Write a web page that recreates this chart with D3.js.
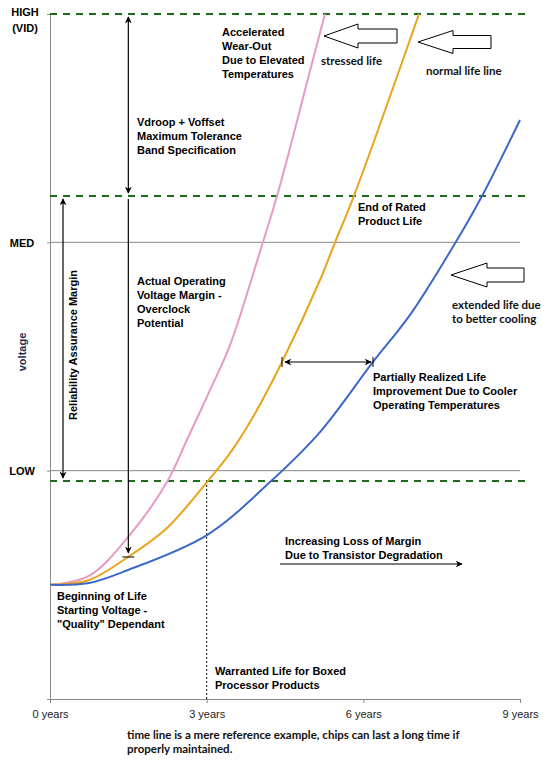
<!DOCTYPE html>
<html>
<head>
<meta charset="utf-8">
<script src="https://cdn.jsdelivr.net/npm/d3@7"></script>
<style>
  body { margin: 0; background: #fff; }
  svg { display: block; }
  .lbl { font-family: "Liberation Sans", Arial, sans-serif; font-size: 11px; font-weight: bold; fill: #000; }
  .note { font-family: Lato, "Open Sans", sans-serif; font-size: 11.5px; font-weight: bold; fill: #111; }
</style>
</head>
<body>
<script>
// time line in years, voltage in "levels" (0 = bottom, 1 = LOW, 2 = MED, 3 = HIGH)
const years = [0, 3, 6, 9];
const levels = [1, 2, 3];
const levelNames = ["LOW", "MED", "HIGH"];
const marginLevels = [0.955, 2.203, 3];

// stressed life (pink)
const stressedX = [0, 0.747, 1.494, 2.24, 2.62, 3.064, 3.447, 4.06, 4.347, 4.65, 4.92, 5.266];
const stressedV = [0.5, 0.539, 0.709, 0.95, 1.134, 1.353, 1.55, 1.988, 2.203, 2.46, 2.70, 3.0];
// normal life line (orange)
const normalX = [0, 0.747, 1.494, 2.24, 3.006, 3.447, 3.887, 4.443, 5.17, 5.458, 5.82, 7.066];
const normalV = [0.5, 0.521, 0.622, 0.749, 0.95, 1.077, 1.235, 1.476, 1.835, 2.0, 2.203, 3.0];
// extended life (blue)
const extendedX = [0, 0.747, 1.494, 3.006, 4.213, 5.17, 6.185, 6.894, 7.794, 8.273, 9];
const extendedV = [0.5, 0.508, 0.565, 0.718, 0.95, 1.169, 1.476, 1.682, 2.01, 2.203, 2.536];

const W = 554, H = 769;
const x = d3.scaleLinear().domain([0, 9]).range([50, 520]);
const y = d3.scaleLinear().domain([0, 3]).range([699, 14]);

const svg = d3.select("body").append("svg")
    .attr("width", W)
    .attr("height", H);

const defs = svg.append("defs");
defs.append("marker")
    .attr("id", "head")
    .attr("viewBox", "0 0 10 10")
    .attr("refX", 9).attr("refY", 5)
    .attr("markerWidth", 7).attr("markerHeight", 7)
    .attr("markerUnits", "userSpaceOnUse")
    .attr("orient", "auto-start-reverse")
    .append("path")
    .attr("d", "M0,0 L10,5 L0,10 L3,5 Z")
    .attr("fill", "#000");

// gray grid lines at LOW and MED
svg.selectAll(".grid")
    .data(levels.slice(0, 2))
    .enter().append("line")
    .attr("x1", x(0)).attr("x2", x(9))
    .attr("y1", d => y(d)).attr("y2", d => y(d))
    .attr("stroke", "#888").attr("stroke-width", 1);

// axes
const yAxis = svg.append("g")
    .attr("transform", `translate(${x(0)},0)`)
    .call(d3.axisLeft(y).tickValues(levels).tickSize(3).tickFormat(""));
yAxis.select(".domain").attr("stroke", "#888");
yAxis.selectAll(".tick line").attr("stroke", "#888");

const xAxis = svg.append("g")
    .attr("transform", `translate(0,${y(0)})`)
    .call(d3.axisBottom(x).tickValues(years).tickSize(4).tickPadding(7)
        .tickFormat(d => d + " years"));
xAxis.select(".domain").attr("stroke", "#888");
xAxis.selectAll(".tick line").attr("stroke", "#888");
xAxis.selectAll("text")
    .attr("font-family", "Liberation Sans, Arial, sans-serif")
    .attr("font-size", 11)
    .attr("fill", "#222");

// level names on the left
svg.selectAll(".lvl")
    .data(levels)
    .enter().append("text")
    .attr("class", "lbl")
    .attr("text-anchor", "middle")
    .attr("x", d => d === 3 ? 25 : 22)
    .attr("y", d => y(d) + (d === 3 ? 2 : 4.5))
    .text((d, i) => levelNames[i]);
svg.append("text").attr("class", "lbl")
    .attr("text-anchor", "middle")
    .attr("x", 25).attr("y", y(3) + 18)
    .text("(VID)");

svg.append("text")
    .attr("class", "lbl")
    .style("fill", "#1f2d50")
    .attr("text-anchor", "middle")
    .attr("transform", "translate(26,352) rotate(-90)")
    .text("voltage");

// green dashed margin lines
svg.selectAll(".margin")
    .data(marginLevels)
    .enter().append("line")
    .attr("x1", x(0)).attr("x2", 528)
    .attr("y1", d => y(d)).attr("y2", d => y(d))
    .attr("stroke", "#1d6b1d")
    .attr("stroke-width", 2)
    .attr("stroke-dasharray", "7,6");

// warranted life dotted line
svg.append("line")
    .attr("x1", x(3)).attr("x2", x(3))
    .attr("y1", y(marginLevels[0])).attr("y2", y(0))
    .attr("stroke", "#000")
    .attr("stroke-dasharray", "2,2");

// curves
const line = d3.line()
    .x(d => x(d[0]))
    .y(d => y(d[1]))
    .curve(d3.curveCatmullRom.alpha(0.5));

const series = [
    { xs: stressedX, vs: stressedV, color: "#e89ac6" },
    { xs: normalX, vs: normalV, color: "#e8a41c" },
    { xs: extendedX, vs: extendedV, color: "#3d68c9" }
];
series.forEach(s => {
    svg.append("path")
        .datum(s.xs.map((v, i) => [v, s.vs[i]]))
        .attr("d", line)
        .attr("fill", "none")
        .attr("stroke", s.color)
        .attr("stroke-width", 2);
});

// arrows
function arrow(x1, y1, x2, y2, both) {
    const l = svg.append("line")
        .attr("x1", x1).attr("y1", y1)
        .attr("x2", x2).attr("y2", y2)
        .attr("stroke", "#000")
        .attr("stroke-width", 1.2)
        .attr("marker-end", "url(#head)");
    if (both) l.attr("marker-start", "url(#head)");
}
const xa = x(1.5);
arrow(xa, y(3) + 3, xa, y(marginLevels[1]) - 3, true);
arrow(xa, y(marginLevels[1]) + 3, xa, y(0.64), false);
svg.append("line").attr("x1", xa - 6).attr("x2", xa + 6)
    .attr("y1", y(0.622)).attr("y2", y(0.622)).attr("stroke", "#000");
arrow(63, y(marginLevels[1]) + 3, 63, y(marginLevels[0]) - 3, true);
const xl = x(4.443), xr = x(6.185), ym = y(1.476);
arrow(xl + 3, ym, xr - 2, ym, true);
[xl, xr].forEach(px => {
    svg.append("line").attr("x1", px).attr("x2", px)
        .attr("y1", ym - 5).attr("y2", ym + 5)
        .attr("stroke", "#000");
});
arrow(280, 564, 462, 564, false);

svg.append("text")
    .attr("class", "lbl")
    .attr("text-anchor", "middle")
    .attr("transform", "translate(77,345) rotate(-90)")
    .text("Reliability Assurance Margin");

// hollow block arrows pointing left
function blockArrow(tipX, cy, baseX, endX, headH, bodyH) {
    const pts = [
        [tipX, cy], [baseX, cy - headH / 2], [baseX, cy - bodyH / 2],
        [endX, cy - bodyH / 2], [endX, cy + bodyH / 2], [baseX, cy + bodyH / 2],
        [baseX, cy + headH / 2]
    ];
    svg.append("polygon")
        .attr("points", pts.map(p => p.join(",")).join(" "))
        .attr("fill", "#fff")
        .attr("stroke", "#000")
        .attr("stroke-width", 1);
}
blockArrow(324, 36, 358, 397, 24, 14);
blockArrow(418, 42, 453, 491, 23, 13);
blockArrow(451, 275, 487, 524, 24, 14);

// text blocks
function block(cls, px, py, lines) {
    const t = svg.append("text").attr("class", cls).attr("x", px).attr("y", py);
    lines.forEach((s, i) => {
        t.append("tspan").attr("x", px).attr("dy", i ? 14 : 0).text(s);
    });
}
block("lbl", 222, 36, ["Accelerated", "Wear-Out", "Due to Elevated", "Temperatures"]);
block("lbl", 137, 126, ["Vdroop + Voffset", "Maximum Tolerance", "Band Specification"]);
block("lbl", 137, 285, ["Actual Operating", "Voltage Margin -", "Overclock", "Potential"]);
block("lbl", 358, 211, ["End of Rated", "Product Life"]);
block("lbl", 373, 381, ["Partially Realized Life", "Improvement Due to Cooler", "Operating Temperatures"]);
block("lbl", 285, 545, ["Increasing Loss of Margin", "Due to Transistor Degradation"]);
block("lbl", 57, 600, ["Beginning of Life", "Starting Voltage -", "\"Quality\" Dependant"]);
block("lbl", 215, 675, ["Warranted Life for Boxed", "Processor Products"]);

block("note", 321, 65, ["stressed life"]);
block("note", 426, 75, ["normal life line"]);
block("note", 452, 309, ["extended life due", "to better cooling"]);
block("note", 127, 739, ["time line is a mere reference example, chips can last a long time if", "properly maintained."]);
</script>
</body>
</html>
